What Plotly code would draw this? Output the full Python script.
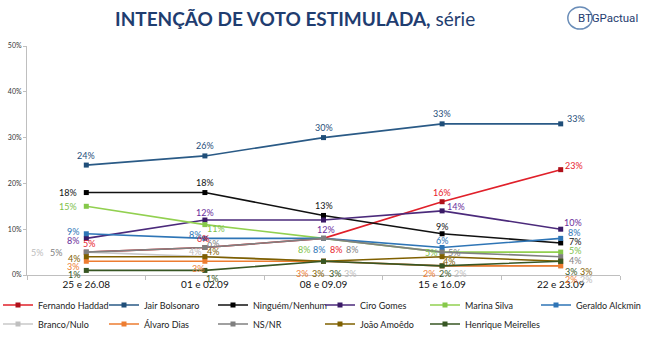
import plotly.graph_objects as go

categories = ["25 e 26.08", "01 e 02.09", "08 e 09.09", "15 e 16.09", "22 e 23.09"]

haddad = [5, 6, 8, 16, 23]
bolsonaro = [24, 26, 30, 33, 33]
ninguem = [18, 18, 13, 9, 7]
ciro = [8, 12, 12, 14, 10]
marina = [15, 11, 8, 5, 5]
alckmin = [9, 8, 8, 6, 8]
branco = [5, 4, 3, 2, 2]
alvaro = [3, 3, 3, 2, 2]
nsnr = [5, 6, 8, 5, 4]
amoedo = [4, 4, 3, 4, 3]
meirelles = [1, 1, 3, 2, 3]

series = [
    ("Fernando Haddad", haddad),
    ("Jair Bolsonaro", bolsonaro),
    ("Ninguém/Nenhum", ninguem),
    ("Ciro Gomes", ciro),
    ("Marina Silva", marina),
    ("Geraldo Alckmin", alckmin),
    ("Branco/Nulo", branco),
    ("Álvaro Dias", alvaro),
    ("NS/NR", nsnr),
    ("João Amoêdo", amoedo),
    ("Henrique Meirelles", meirelles),
]

# styles: line colour, marker colour, label colour
style = {
    "Fernando Haddad": ("#E0202A", "#B0101A", "#E8202A"),
    "Jair Bolsonaro": ("#2A5A86", "#1F4E79", "#1F4E79"),
    "Ninguém/Nenhum": ("#111111", "#000000", "#111111"),
    "Ciro Gomes": ("#4B2A7B", "#3A1A66", "#6A2D9A"),
    "Marina Silva": ("#92D050", "#86C84A", "#7EC14A"),
    "Geraldo Alckmin": ("#2E75B6", "#2E75B6", "#2E75B6"),
    "Branco/Nulo": ("#C8C8C8", "#BFBFBF", "#BDBDBD"),
    "Álvaro Dias": ("#ED7D31", "#ED7D31", "#ED7D31"),
    "NS/NR": ("#808080", "#7F7F7F", "#7F7F7F"),
    "João Amoêdo": ("#7F6000", "#7F6000", "#7F6000"),
    "Henrique Meirelles": ("#375623", "#375623", "#375623"),
}

# label pixel offsets (dx, dy down-positive) per point
label_offsets = {
    "Fernando Haddad": [(3, -9), (-2, -9), (12, 11), (0, -9), (13, -4)],
    "Jair Bolsonaro": [(0, -10), (0, -10), (0, -10), (0, -10), (15, -5)],
    "Ninguém/Nenhum": [(-18, 0), (0, -10), (0, -10), (0, -7), (14, -1)],
    "Ciro Gomes": [(-13, 2), (0, -8), (2, 9), (14, -4), (12, -7)],
    "Marina Silva": [(-18, 0), (11, 4), (-20, 11), (-11, 0), (14, -2)],
    "Geraldo Alckmin": [(-13, -2), (-10, -4), (-5, 11), (0, -7), (13, -6)],
    "Branco/Nulo": [(-49, 0), (-10, -5), (26, 12), (18, 8), (25, 14)],
    "Álvaro Dias": [(-13, 5), (-7, 7), (-22, 12), (-13, 8), (10, 14)],
    "NS/NR": [(-30, 0), (8, -4), (28, 11), (12, 0), (14, 4)],
    "João Amoêdo": [(-12, 2), (8, -5), (-6, 12), (7, 5), (25, 10)],
    "Henrique Meirelles": [(-12, 4), (7, 8), (11, 12), (3, 8), (10, 10)],
}

# legend columns: (legend id, text start px)
legend_cols = ["legend", "legend2", "legend3", "legend4", "legend5", "legend6"]
legend_text_x = [31, 137, 246, 353, 458, 569]

FONT = "Lato"
PL, PR, PT, PB = 27, 30, 46, 62
PW = 650 - PL - PR
PH = 337 - PT - PB

fig = go.Figure()
annotations = []
for k, (name, vals) in enumerate(series):
    lc, mc, tc = style[name]
    fig.add_trace(go.Scatter(
        x=categories, y=vals, name=name, mode="lines+markers",
        line=dict(color=lc, width=1.6),
        marker=dict(symbol="square", size=5, color=mc),
        legend=legend_cols[k % 6],
    ))
    for i, v in enumerate(vals):
        dx, dy = label_offsets[name][i]
        annotations.append(dict(
            x=categories[i], y=v, xref="x", yref="y", text=f"{v}%",
            showarrow=False, xshift=dx, yshift=-dy,
            font=dict(family=FONT, size=9, color=tc),
        ))

annotations.append(dict(
    xref="paper", yref="paper", x=0.452, y=1.122, yanchor="middle", xanchor="center",
    text="<b>INTENÇÃO DE VOTO ESTIMULADA,</b> série", showarrow=False,
    font=dict(family=FONT, size=19, color="#1F3D70"),
))
annotations.append(dict(
    xref="paper", yref="paper", x=1.034, y=1.122, yanchor="middle", xanchor="right",
    text="BTGPactual", showarrow=False,
    font=dict(family="Liberation Sans Narrow, Roboto", size=11.5, color="#1F3D70"),
))

legend_style = dict(
    orientation="v", xref="paper", yref="paper",
    y=(337 - PB - 290.5) / PH, xanchor="left", yanchor="top",
    font=dict(family=FONT, size=9, color="#222222"),
    itemwidth=30, tracegroupgap=0, bgcolor="rgba(0,0,0,0)",
)
legends = {}
for lid, tx in zip(legend_cols, legend_text_x):
    legends[lid] = dict(legend_style, x=(tx - 33 - PL) / PW)

fig.update_layout(
    width=650, height=337,
    margin=dict(l=PL, r=PR, t=PT, b=PB, autoexpand=False),
    paper_bgcolor="white", plot_bgcolor="white",
    font=dict(family=FONT, size=9, color="#222222"),
    showlegend=True,
    annotations=annotations,
    xaxis=dict(
        type="category", showgrid=False, showline=True, linecolor="#BFBFBF", linewidth=1,
        ticks="outside", tickson="boundaries", ticklen=4, tickcolor="#BFBFBF",
        tickfont=dict(family=FONT, size=10, color="#111111"),
        range=[-0.5, 4.5],
    ),
    yaxis=dict(
        range=[0, 50], dtick=10, ticksuffix="%", showgrid=False, showline=True,
        linecolor="#BFBFBF", linewidth=1, ticks="outside", ticklen=3, tickcolor="#BFBFBF",
        tickfont=dict(family=FONT, size=7, color="#333333"), zeroline=False,
    ),
    **legends,
)

# logo ring
fig.add_shape(type="circle", xref="paper", yref="paper",
              x0=0.912, x1=0.953, y0=1.074, y1=1.170, line=dict(color="#6A8DB8", width=1.5))

fig.write_html("out.html")
